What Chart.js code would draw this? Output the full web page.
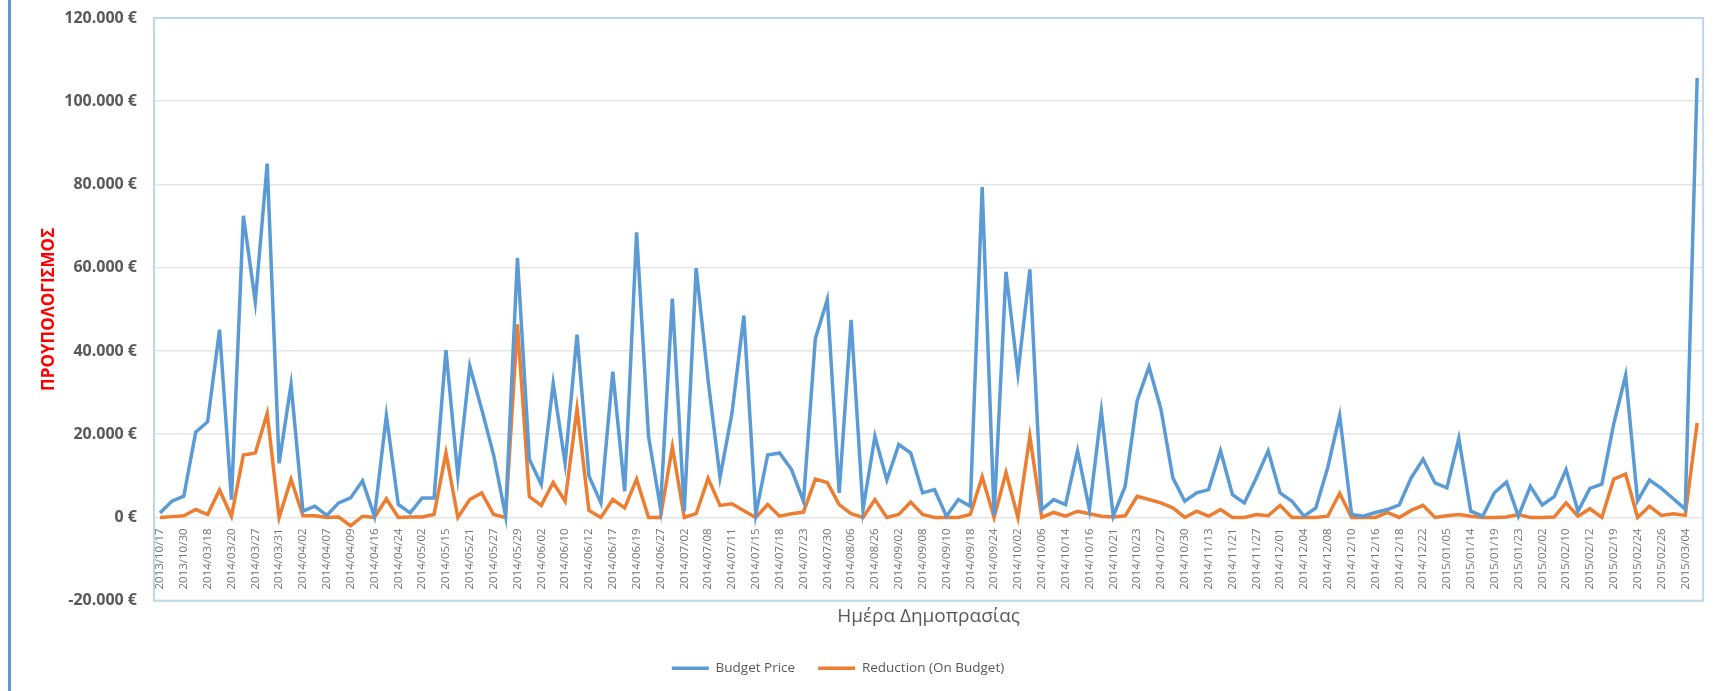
<!DOCTYPE html>
<html>
<head>
<meta charset="utf-8">
<title>Budget Price / Reduction</title>
<script src="https://cdn.jsdelivr.net/npm/chart.js@4.4.1/dist/chart.umd.min.js"></script>
<style>
    html, body { margin: 0; padding: 0; background: #ffffff; }
    #wrap { position: relative; width: 1714px; height: 691px; }
    #sideBar { position: absolute; left: 8px; top: 0; width: 3px; height: 691px; background: #5b9bd5; }
</style>
</head>
<body>
<div id="wrap">
    <canvas id="budgetChart"></canvas>
    <div id="sideBar"></div>
</div>
<script>
// auction dates (every second one is printed on the axis)
const dates = [
    '2013/10/17','2013/10/24','2013/10/30','2014/02/12','2014/03/18','2014/03/19','2014/03/20','2014/03/25','2014/03/27','2014/03/28',
    '2014/03/31','2014/04/01','2014/04/02','2014/04/04','2014/04/07','2014/04/08','2014/04/09','2014/04/14','2014/04/16','2014/04/22',
    '2014/04/24','2014/04/29','2014/05/02','2014/05/08','2014/05/15','2014/05/19','2014/05/21','2014/05/23','2014/05/27','2014/05/28',
    '2014/05/29','2014/05/30','2014/06/02','2014/06/05','2014/06/10','2014/06/11','2014/06/12','2014/06/13','2014/06/17','2014/06/18',
    '2014/06/19','2014/06/24','2014/06/27','2014/06/30','2014/07/02','2014/07/04','2014/07/08','2014/07/10','2014/07/11','2014/07/14',
    '2014/07/15','2014/07/17','2014/07/18','2014/07/21','2014/07/23','2014/07/28','2014/07/30','2014/08/01','2014/08/06','2014/08/20',
    '2014/08/26','2014/08/29','2014/09/02','2014/09/04','2014/09/08','2014/09/09','2014/09/10','2014/09/15','2014/09/18','2014/09/22',
    '2014/09/24','2014/09/29','2014/10/02','2014/10/03','2014/10/06','2014/10/09','2014/10/14','2014/10/15','2014/10/16','2014/10/20',
    '2014/10/21','2014/10/22','2014/10/23','2014/10/24','2014/10/27','2014/10/28','2014/10/30','2014/11/06','2014/11/13','2014/11/18',
    '2014/11/21','2014/11/25','2014/11/27','2014/11/28','2014/12/01','2014/12/02','2014/12/04','2014/12/05','2014/12/08','2014/12/09',
    '2014/12/10','2014/12/12','2014/12/16','2014/12/17','2014/12/18','2014/12/19','2014/12/22','2014/12/30','2015/01/05','2015/01/08',
    '2015/01/14','2015/01/16','2015/01/19','2015/01/21','2015/01/23','2015/01/28','2015/02/02','2015/02/05','2015/02/10','2015/02/11',
    '2015/02/12','2015/02/16','2015/02/19','2015/02/20','2015/02/24','2015/02/25','2015/02/26','2015/03/02','2015/03/04','2015/03/06'
];

// Budget Price (€)
const budgetPrice = [
    1100, 3900, 5100, 20500, 23000, 45100, 4300, 72500, 51800, 85000,
    13000, 31900, 1500, 2700, 500, 3500, 4700, 8800, 300, 24500,
    3100, 1100, 4700, 4700, 40200, 10000, 36400, 26000, 15000, 500,
    62400, 14000, 7900, 32200, 13000, 43900, 10000, 3500, 35000, 6300,
    68500, 19500, 2300, 52600, 1500, 59900, 33000, 9600, 25000, 48500,
    800, 15000, 15500, 11500, 3900, 43000, 52300, 5900, 47500, 1900,
    19500, 9000, 17500, 15500, 5900, 6700, 300, 4300, 2700, 79400,
    500, 59000, 34600, 59600, 1900, 4300, 3100, 16000, 1900, 25500,
    300, 7500, 28000, 36200, 26000, 9500, 3900, 5900, 6700, 16000,
    5500, 3500, 9500, 16000, 5900, 3900, 300, 2300, 12000, 24500,
    700, 300, 1200, 1900, 3000, 9500, 14000, 8300, 7100, 19000,
    1500, 300, 6000, 8500, 300, 7500, 3000, 5000, 11500, 1500,
    7000, 8000, 22500, 34200, 4000, 9000, 7000, 4500, 2000, 105600
];

// Reduction (On Budget) (€)
const reduction = [
    0, 200, 400, 1900, 700, 6600, 300, 15000, 15500, 25000,
    0, 9200, 400, 400, 0, 100, -2000, 300, 0, 4500,
    0, 100, 100, 700, 15500, 0, 4300, 5900, 700, 0,
    46400, 5000, 2900, 8400, 3900, 26100, 1700, 0, 4300, 2300,
    9200, 0, 0, 17000, 0, 900, 9400, 2900, 3300, 1600,
    0, 3100, 300, 900, 1300, 9200, 8400, 3100, 900, 0,
    4300, 0, 700, 3700, 700, 0, 0, 0, 700, 9800,
    0, 10800, 0, 19500, 0, 1200, 300, 1500, 900, 300,
    100, 400, 5100, 4300, 3500, 2300, 0, 1500, 300, 1900,
    0, 0, 700, 400, 2900, 0, 0, 0, 300, 5800,
    0, 0, 0, 1200, 0, 1700, 2900, 0, 400, 700,
    300, 0, 0, 100, 700, 0, 0, 100, 3500, 300,
    2100, 0, 9200, 10400, 0, 2700, 500, 900, 500, 22700
];

const seriesNames = ['Budget Price', 'Reduction (On Budget)'];
const xTitle = 'Ημέρα Δημοπρασίας';
const yTitle = 'ΠΡΟΥΠΟΛΟΓΙΣΜΟΣ';

const BudgetChart = {
    chart: null,

    /**
     * 12.000 € style
     */
    formatEuro: function(v) {
        const sign = v < 0 ? '-' : '';
        const s = String(Math.abs(v)).replace(/\B(?=(\d{3})+(?!\d))/g, '.');
        return sign + s + ' €';
    },

    init: function() {
        const canvas = document.getElementById('budgetChart');
        canvas.width = 1714;
        canvas.height = 691;
        const ctx = canvas.getContext('2d');

        // light blue frame around the plot area
        const plotFrame = {
            id: 'plotFrame',
            afterDraw: function(chart) {
                const a = chart.chartArea;
                const c = chart.ctx;
                c.save();
                c.strokeStyle = '#bdd7ee';
                c.lineWidth = 2;
                c.strokeRect(a.left, a.top, a.right - a.left, a.bottom - a.top);
                c.restore();
            }
        };

        // the legend sits a little left of the canvas centre
        const legendNudge = {
            id: 'legendNudge',
            afterLayout: function(chart) {
                if (chart.legend) {
                    chart.legend.left -= 18;
                    chart.legend.right -= 18;
                }
            }
        };

        this.chart = new Chart(ctx, {
            type: 'line',
            data: {
                labels: dates,
                datasets: [{
                    label: seriesNames[0],
                    data: budgetPrice,
                    borderColor: '#5b9bd5',
                    backgroundColor: '#5b9bd5',
                    borderWidth: 3.5,
                    pointRadius: 0,
                    tension: 0
                }, {
                    label: seriesNames[1],
                    data: reduction,
                    borderColor: '#ed7d31',
                    backgroundColor: '#ed7d31',
                    borderWidth: 3.5,
                    pointRadius: 0,
                    tension: 0
                }]
            },
            options: {
                responsive: false,
                animation: false,
                layout: {
                    padding: { top: 18, right: 2, bottom: 6, left: 0 }
                },
                scales: {
                    x: {
                        type: 'category',
                        position: { y: 0 },
                        offset: true,
                        grid: { display: false },
                        border: { display: false },
                        ticks: {
                            autoSkip: false,
                            minRotation: 90,
                            maxRotation: 90,
                            padding: 3,
                            color: '#737373',
                            font: { family: 'Open Sans', size: 11.5 },
                            callback: function(value, index) {
                                return index % 2 === 0 ? dates[index] : '';
                            }
                        }
                    },
                    y: {
                        min: -20000,
                        max: 120000,
                        grid: {
                            color: '#e6e6e6',
                            lineWidth: 1.5,
                            drawTicks: false
                        },
                        border: { display: false },
                        ticks: {
                            stepSize: 20000,
                            padding: 17,
                            color: '#595959',
                            font: { family: 'Open Sans', size: 16, weight: 'bold' },
                            callback: (v) => BudgetChart.formatEuro(v)
                        },
                        title: {
                            display: true,
                            text: yTitle,
                            color: '#ff0000',
                            padding: { top: 39, bottom: 0 },
                            font: { family: 'Open Sans', size: 17, weight: 'bold' }
                        },
                        afterFit: function(scale) {
                            scale.width = 154;
                            // only half a label of room above/below the plot
                            scale.paddingTop = 9;
                            scale.paddingBottom = 9;
                        }
                    }
                },
                plugins: {
                    title: {
                        display: true,
                        text: xTitle,
                        position: 'bottom',
                        fullSize: false,
                        weight: 500,
                        color: '#595959',
                        padding: { top: 4, bottom: 11 },
                        font: { family: 'Open Sans', size: 19, weight: 'normal' }
                    },
                    legend: {
                        position: 'bottom',
                        weight: 1000,
                        labels: {
                            usePointStyle: true,
                            pointStyle: 'line',
                            pointStyleWidth: 37,
                            padding: 23,
                            color: '#595959',
                            font: { family: 'Open Sans', size: 13.5 }
                        }
                    },
                    tooltip: { enabled: false }
                }
            },
            plugins: [plotFrame, legendNudge]
        });
    }
};

BudgetChart.init();
</script>
</body>
</html>
